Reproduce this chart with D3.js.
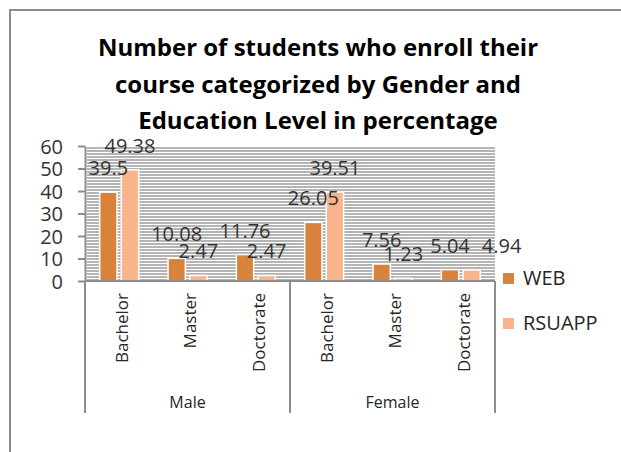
<!DOCTYPE html>
<meta charset="utf-8">
<style>
  body { margin: 0; background: #fff; }
  text { font-family: "Open Sans", sans-serif; fill: #262626; }
  .title { font-weight: bold; font-size: 24px; fill: #000; }
  .val { font-size: 20px; fill: #333; }
  .axis text { font-size: 20px; fill: #333; font-family: "Open Sans", sans-serif; }
  .axis path, .axis line { stroke: #8c8c8c; stroke-width: 2; }
</style>
<svg width="621" height="452"></svg>
<script src="https://cdn.jsdelivr.net/npm/d3@7"></script>
<script>

var categories = ["Bachelor", "Master", "Doctorate", "Bachelor", "Master", "Doctorate"];
var groups = ["Male", "Female"];
var series = ["WEB", "RSUAPP"];
var webValues = [39.5, 10.08, 11.76, 26.05, 7.56, 5.04];
var rsuappValues = [49.38, 2.47, 2.47, 39.51, 1.23, 4.94];
var yTicks = [0, 10, 20, 30, 40, 50, 60];
var colors = ["#d9823b", "#f8b48b"];
var titleLines = ["Number of students who enroll their",
                  "course categorized by Gender and",
                  "Education Level in percentage"];

var svg = d3.select("svg");

// outer chart frame (runs off the right and bottom edges)
svg.append("path")
    .attr("d", "M10,460V10H630")
    .attr("fill", "none")
    .attr("stroke", "#8c8c8c")
    .attr("stroke-width", 2);

// hatch pattern for plot background
var pat = svg.append("defs").append("pattern")
    .attr("id", "hatch")
    .attr("patternUnits", "userSpaceOnUse")
    .attr("width", 6).attr("height", 3);
pat.append("rect").attr("width", 6).attr("height", 3).attr("fill", "#fff");
pat.append("rect").attr("width", 6).attr("height", 2).attr("fill", "#b4b4b4");

var plotLeft = 85, plotRight = 495, plotTop = 146, plotBottom = 281;

var x0 = d3.scaleBand()
    .domain(d3.range(categories.length))
    .range([plotLeft, plotRight])
    .paddingInner(0.43)
    .paddingOuter(0.215);

var x1 = d3.scaleBand()
    .domain(series)
    .range([0, x0.bandwidth()])
    .paddingInner(0.2);

var edge = d3.scaleLinear().domain([0, categories.length]).range([plotLeft, plotRight]);

var y = d3.scaleLinear().domain([0, 60]).range([plotBottom, plotTop]);

svg.append("rect")
    .attr("x", plotLeft + 2).attr("y", plotTop)
    .attr("width", plotRight - plotLeft - 2).attr("height", plotBottom - plotTop)
    .attr("fill", "url(#hatch)");

// title
svg.append("g").selectAll("text")
    .data(titleLines)
  .enter().append("text")
    .attr("class", "title")
    .attr("x", 318)
    .attr("y", function(d, i) { return 56 + i * 36.5; })
    .attr("text-anchor", "middle")
    .text(function(d) { return d; });

// bars
var rows = categories.map(function(c, i) {
  return [{s: "WEB", v: webValues[i], i: i}, {s: "RSUAPP", v: rsuappValues[i], i: i}];
});

var cat = svg.append("g").selectAll("g")
    .data(rows)
  .enter().append("g")
    .attr("transform", function(d, i) { return "translate(" + x0(i) + ",0)"; });

cat.selectAll("rect")
    .data(function(d) { return d; })
  .enter().append("rect")
    .attr("x", function(d) { return x1(d.s); })
    .attr("y", function(d) { return y(d.v); })
    .attr("width", x1.bandwidth())
    .attr("height", function(d) { return y(0) - y(d.v); })
    .attr("fill", function(d) { return colors[series.indexOf(d.s)]; })
    .attr("stroke", "#fff")
    .attr("stroke-width", 1.5);

// value labels; when the pair sits at about the same height, push the second one right
cat.selectAll("text")
    .data(function(d) { return d; })
  .enter().append("text")
    .attr("class", "val")
    .attr("x", function(d) { return x1(d.s) + x1.bandwidth() / 2; })
    .attr("y", function(d) { return y(d.v) - 17; })
    .attr("text-anchor", "middle")
    .text(function(d) { return d.v; })
    .each(function(d) {
      if (d.s !== "RSUAPP") return;
      var dy = Math.abs(y(webValues[d.i]) - y(d.v));
      if (dy < 12) d3.select(this).attr("dx", 30);
    });

// y axis
svg.append("g")
    .attr("class", "axis")
    .attr("transform", "translate(" + plotLeft + ",0)")
    .call(d3.axisLeft(y).tickValues(yTicks).tickSize(7).tickSizeOuter(0).tickPadding(15))
    .call(function(g) { g.selectAll("text").attr("dy", "0.35em"); });

// category axis line
svg.append("line")
    .attr("x1", plotLeft).attr("x2", plotRight)
    .attr("y1", plotBottom).attr("y2", plotBottom)
    .attr("stroke", "#8c8c8c").attr("stroke-width", 2);

// group separators
svg.append("g").selectAll("line")
    .data([0, 3, 6])
  .enter().append("line")
    .attr("x1", function(d) { return edge(d); })
    .attr("x2", function(d) { return edge(d); })
    .attr("y1", plotBottom).attr("y2", 413)
    .attr("stroke", "#8c8c8c").attr("stroke-width", 2);

// category labels
svg.append("g").selectAll("text")
    .data(categories)
  .enter().append("text")
    .attr("transform", function(d, i) { return "translate(" + (edge(i + 0.5) + 3) + ",293) rotate(-90)"; })
    .attr("dy", "0.35em")
    .attr("text-anchor", "end")
    .style("font-size", "17px")
    .text(function(d) { return d; });

// group labels
svg.append("g").selectAll("text")
    .data(groups)
  .enter().append("text")
    .attr("x", function(d, i) { return edge(i * 3 + 1.5); })
    .attr("y", 408)
    .attr("text-anchor", "middle")
    .style("font-size", "16px")
    .text(function(d) { return d; });

// legend
var leg = svg.append("g").selectAll("g")
    .data(series)
  .enter().append("g")
    .attr("transform", function(d, i) { return "translate(503," + (273 + i * 45) + ")"; });

leg.append("rect")
    .attr("width", 11).attr("height", 11)
    .attr("fill", function(d, i) { return colors[i]; });

leg.append("text")
    .attr("x", 20).attr("y", 12)
    .style("font-size", "20px")
    .text(function(d) { return d; });

</script>
